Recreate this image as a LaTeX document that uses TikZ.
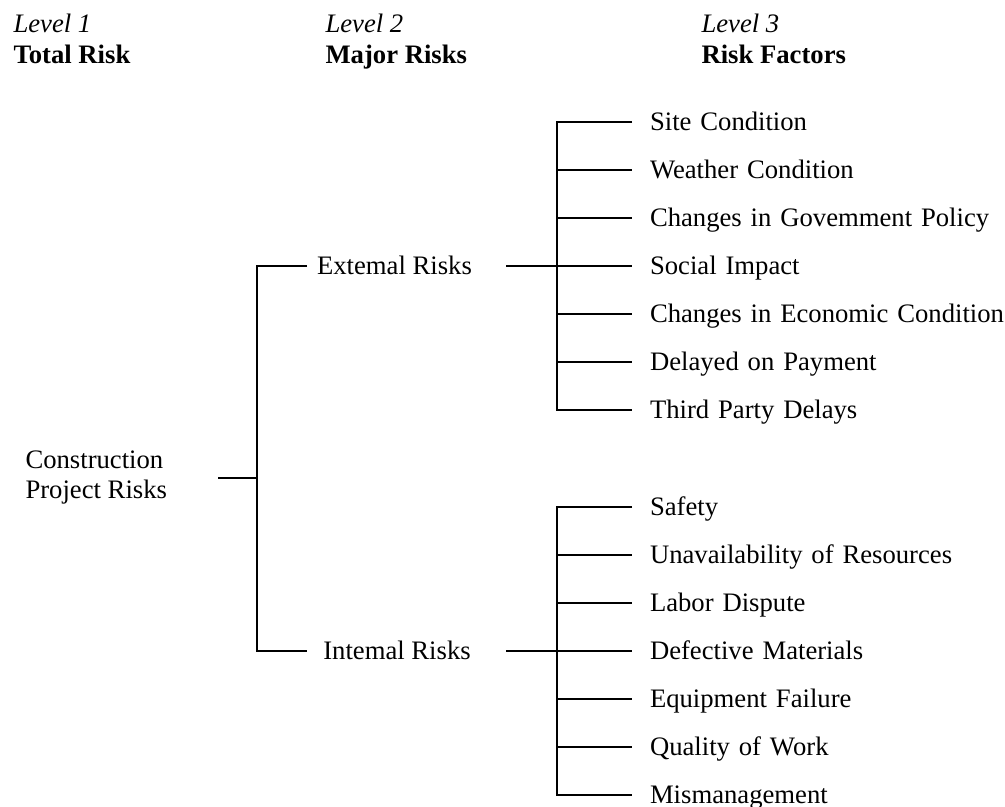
\documentclass[tikz,border=0pt]{standalone}
\usepackage{fontspec}
\setmainfont{Liberation Serif}
\usetikzlibrary{positioning}

\begin{document}
\begin{tikzpicture}[x=0.75pt,y=-0.75pt,node distance=36pt,on grid,line width=0.8pt,
    font=\fontsize{20}{22.5}\selectfont,
    every node/.style={inner sep=0pt},
    tag/.style={anchor=west,text height=13.2pt,text depth=0pt},
    level/.style={tag,font=\fontsize{20}{22.5}\selectfont\itshape},
    head/.style={tag,font=\fontsize{20}{22.5}\selectfont\bfseries},
    major/.style={text height=13.2pt,text depth=0pt},
    factor/.style={text width=270pt,align=left,text height=13.2pt,text depth=0pt}]
\useasboundingbox (0,0) rectangle (1005,806);

% column heads
\node[level] (lv1) at (13,24) {Level 1};
\node[head] (total) at (13,55) {Total Risk};
\node[level] (lv2) at (325,24) {Level 2};
\node[head] (major) at (325,55) {Major Risks};
\node[level] (lv3) at (701,24) {Level 3};
\node[head] (factors) at (701,55) {Risk Factors};

% tree
\node[anchor=west,align=left] (root) at (25,478) {Construction\\Project Risks};
\coordinate (sp2) at (257,0);
\coordinate (sp3) at (557,0);

\node[major] (ext) at (394.5,266) {Extemal Risks};
\node[major] (int) at (397,651) {Intemal Risks};

\node[factor] (site) at (830,122) {Site Condition};
\node[factor] (weather) [below=of site] {Weather Condition};
\node[factor] (policy) [below=of weather] {Changes in Govemment Policy};
\node[factor] (social) [below=of policy] {Social Impact};
\node[factor] (economy) [below=of social] {Changes in Economic Condition};
\node[factor] (payment) [below=of economy] {Delayed on Payment};
\node[factor] (third) [below=of payment] {Third Party Delays};

\node[factor] (safety) at (830,507) {Safety};
\node[factor] (resources) [below=of safety] {Unavailability of Resources};
\node[factor] (labor) [below=of resources] {Labor Dispute};
\node[factor] (defective) [below=of labor] {Defective Materials};
\node[factor] (equipment) [below=of defective] {Equipment Failure};
\node[factor] (quality) [below=of equipment] {Quality of Work};
\node[factor] (mismanage) [below=of quality] {Mismanagement};

\draw (sp2 |- root) -- ++(-39,0);
\draw (sp2 |- ext) ++(50,0) -- (sp2 |- ext) -- (sp2 |- int) -- ++(50,0);
\draw (sp3 |- ext) -- ++(-51,0);
\draw (sp3 |- int) -- ++(-51,0);

\draw (sp3 |- site) ++(75,0) -- (sp3 |- site) -- (sp3 |- third) -- ++(75,0);
\draw (sp3 |- safety) ++(75,0) -- (sp3 |- safety) -- (sp3 |- mismanage) -- ++(75,0);
\path[draw]
(sp3 |- weather) -- ++(75,0)
(sp3 |- policy) -- ++(75,0)
(sp3 |- social) -- ++(75,0)
(sp3 |- economy) -- ++(75,0)
(sp3 |- payment) -- ++(75,0)
(sp3 |- resources) -- ++(75,0)
(sp3 |- labor) -- ++(75,0)
(sp3 |- defective) -- ++(75,0)
(sp3 |- equipment) -- ++(75,0)
(sp3 |- quality) -- ++(75,0)
;
\end{tikzpicture}
\end{document}
